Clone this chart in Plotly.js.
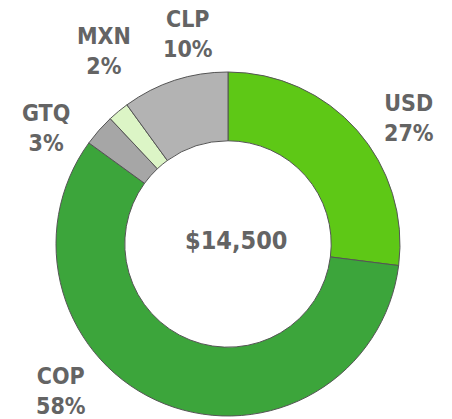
<!DOCTYPE html>
<html>
<head>
<meta charset="utf-8">
<script src="https://cdn.plot.ly/plotly-3.0.1.min.js"></script>
<style>html,body{margin:0;padding:0;background:#fff;}#chart{width:452px;height:419px;}</style>
</head>
<body>
<div id="chart"></div>
<script>
const categories = ["USD", "COP", "GTQ", "MXN", "CLP"];
const values = [27, 58, 3, 2, 10];
const colors = ["#5ec816", "#3ca53b", "#a6a6a6", "#dcf5c6", "#b3b3b3"];
const centerLabel = "$14,500";

const FONT = "'DejaVu Sans Condensed', 'DejaVu Sans', sans-serif";
const TXT = "#646464";

// label block centers in pixels (layout only)
const labelPos = {
  USD: [409, 118],
  COP: [61, 391],
  GTQ: [46, 128],
  MXN: [104, 51],
  CLP: [188, 34]
};
const W = 452, H = 419;
const total = values.reduce((a, b) => a + b, 0);

const annotations = categories.map((c, i) => ({
  text: "<b>" + c + "<br>" + Math.round(values[i] / total * 100) + "%</b>",
  x: labelPos[c][0] / W, y: 1 - labelPos[c][1] / H,
  xref: "paper", yref: "paper", showarrow: false,
  xanchor: "center", yanchor: "middle",
  font: {family: FONT, size: 23, color: TXT}
}));
annotations.push({
  text: "<b>" + centerLabel + "</b>",
  x: 236 / W, y: 1 - 240 / H, xref: "paper", yref: "paper", showarrow: false,
  xanchor: "center", yanchor: "middle",
  font: {family: FONT, size: 25, color: TXT}
});

const cx = 228, cy = 244, r = 172;
const trace = {
  type: "pie",
  labels: categories,
  values: values,
  sort: false,
  direction: "clockwise",
  rotation: 0,
  hole: 0.6,
  textinfo: "none",
  hoverinfo: "none",
  marker: {colors: colors, line: {color: "#555555", width: 1}},
  domain: {x: [(cx - r) / W, (cx + r) / W], y: [(H - cy - r) / H, (H - cy + r) / H]},
  showlegend: false
};

Plotly.newPlot("chart", [trace], {
  width: W, height: H,
  margin: {l: 0, r: 0, t: 0, b: 0},
  paper_bgcolor: "#ffffff",
  plot_bgcolor: "#ffffff",
  showlegend: false,
  annotations: annotations
}, {displayModeBar: false, staticPlot: true});
</script>
</body>
</html>
